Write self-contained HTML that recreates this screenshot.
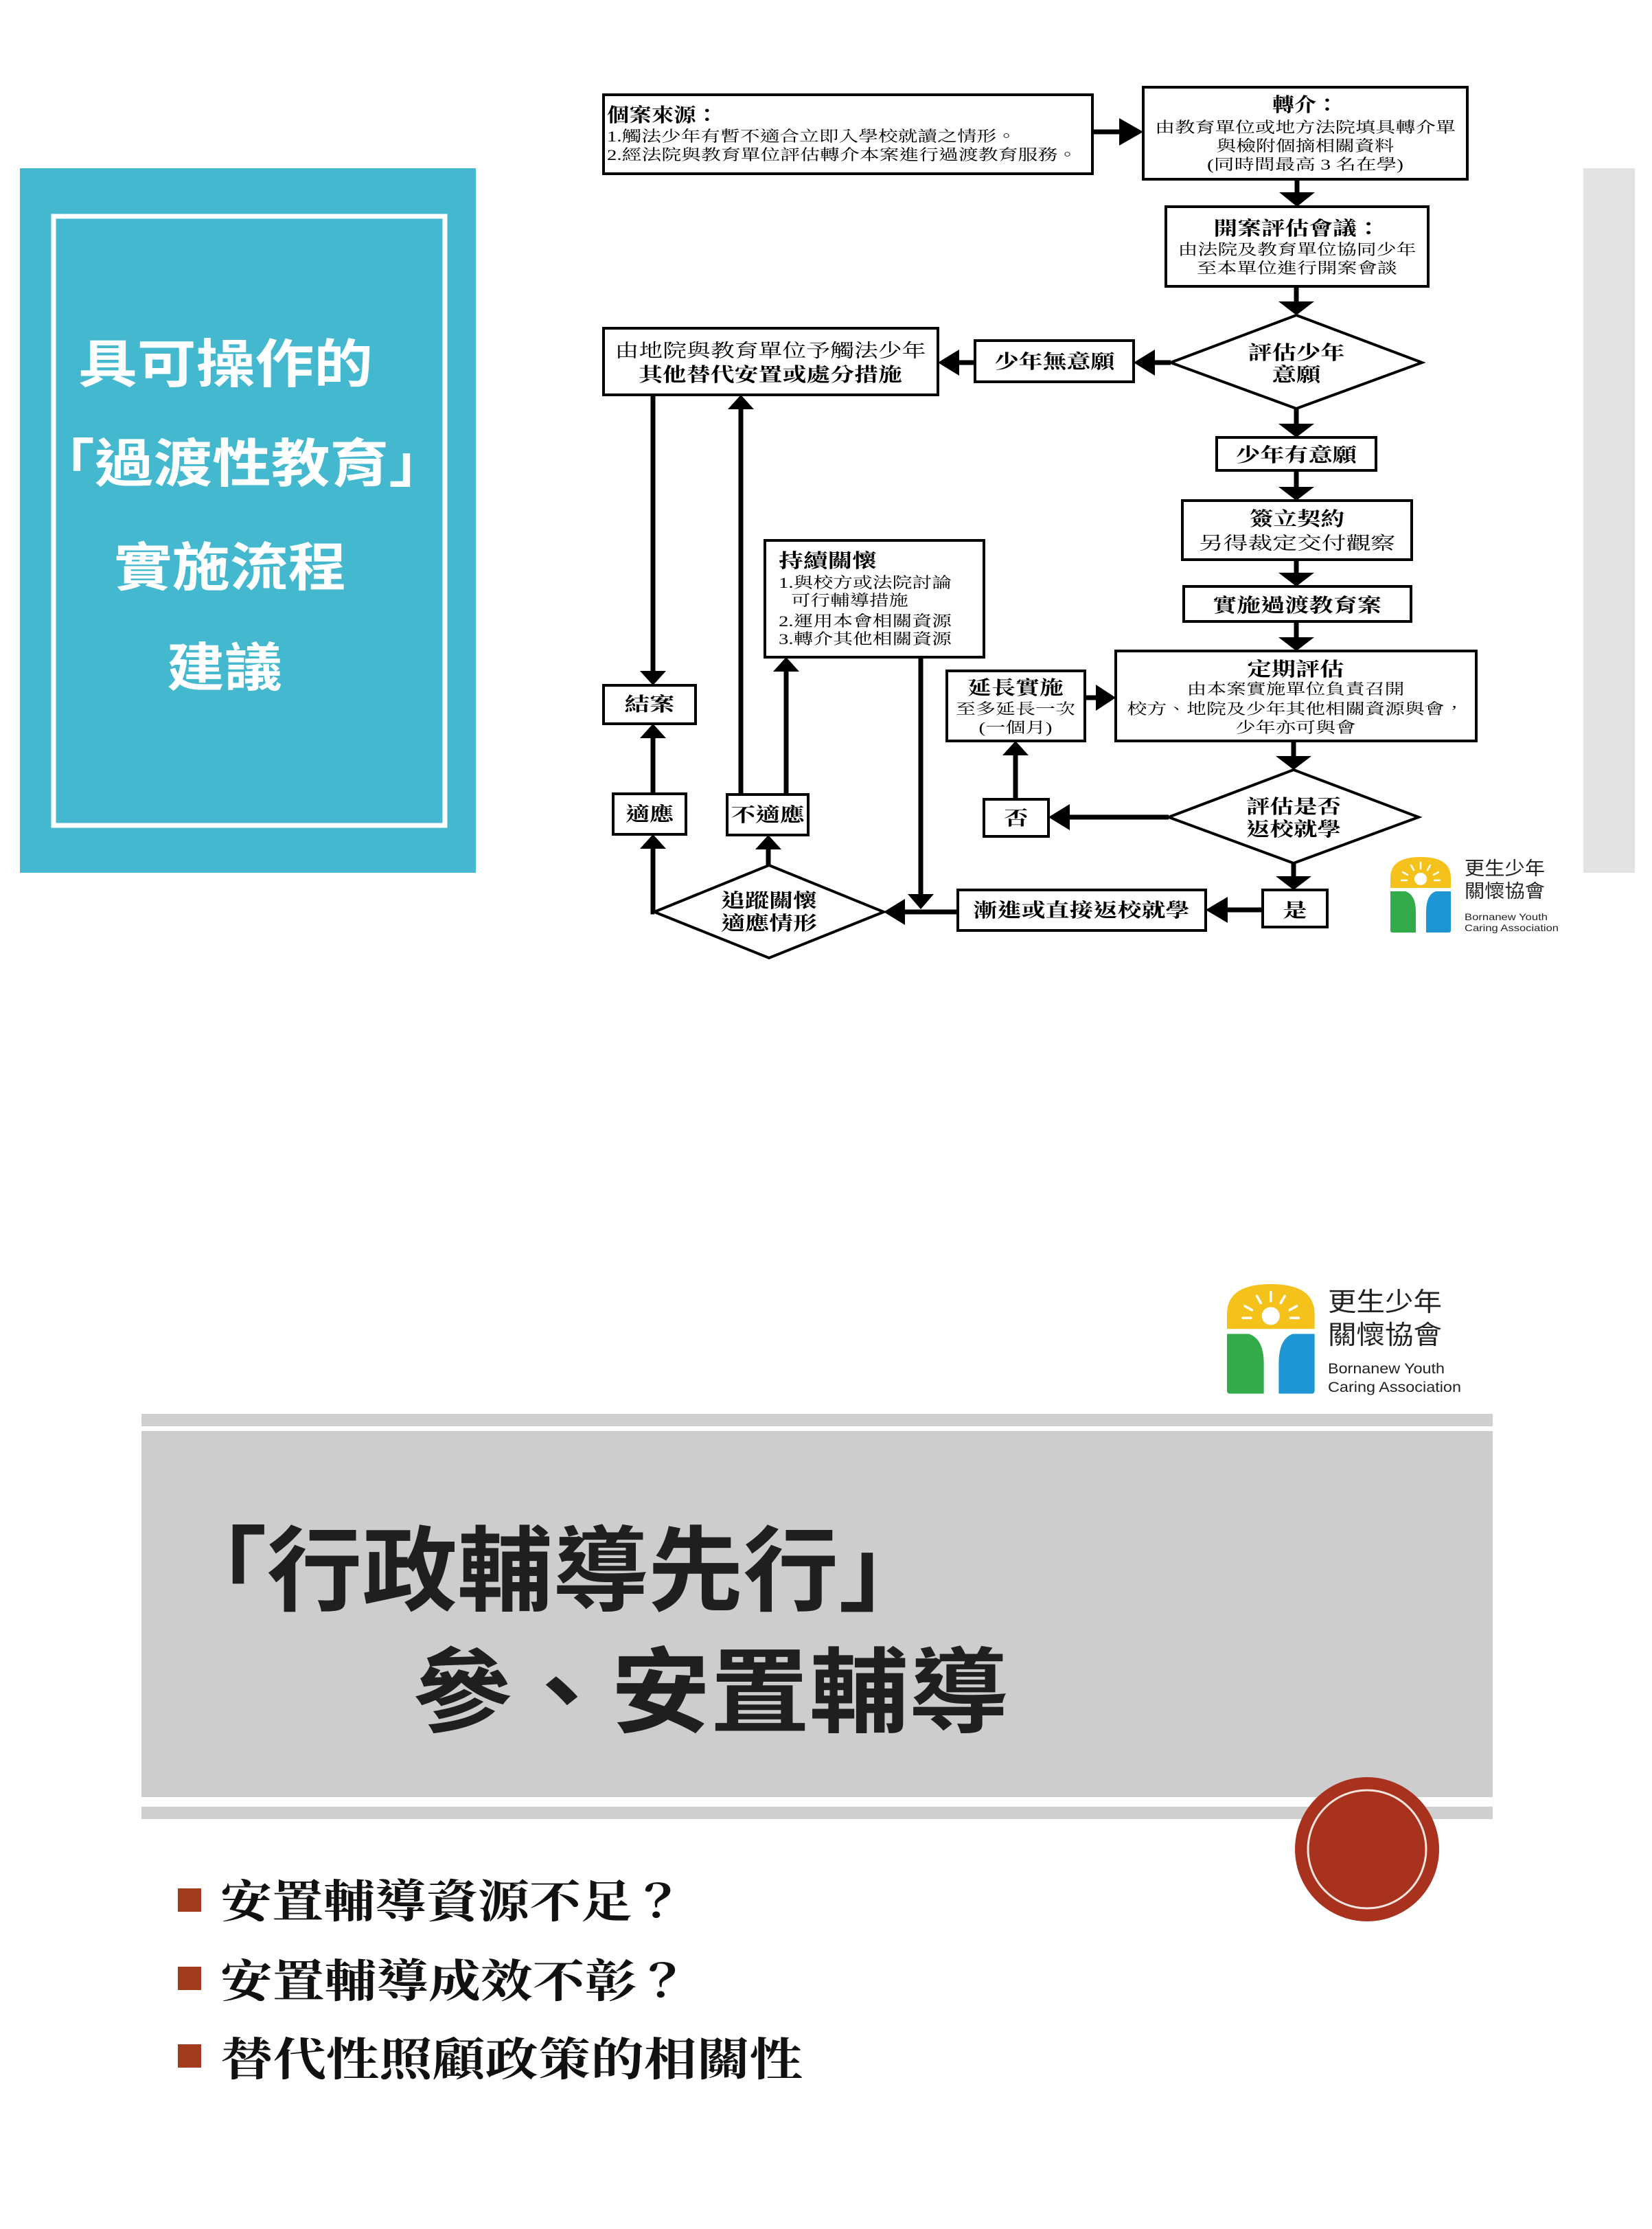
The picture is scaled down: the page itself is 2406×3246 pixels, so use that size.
<!DOCTYPE html>
<html><head><meta charset="utf-8"><style>
html,body{margin:0;padding:0;background:#fff;}
svg{display:block;}
.fc{font-family:"Liberation Serif","Noto Serif CJK TC",serif;fill:#000;}
.b{font-weight:bold;}
</style></head><body>
<svg width="2406" height="3246" viewBox="0 0 2406 3246" xmlns="http://www.w3.org/2000/svg">
<defs>
<g id="logo">
  <path d="M0,45 V30 Q0,0 44,0 Q88,0 88,30 V45 Z" fill="#f4c21a"/>
  <circle cx="44" cy="32" r="9" fill="#fff"/>
  <g stroke="#fff" stroke-width="2.5" stroke-linecap="round">
    <line x1="44" y1="8" x2="44" y2="17"/><line x1="30" y1="12" x2="34" y2="19"/><line x1="58" y1="12" x2="54" y2="19"/>
    <line x1="18" y1="22" x2="25" y2="26"/><line x1="70" y1="22" x2="63" y2="26"/><line x1="16" y1="34" x2="24" y2="34"/><line x1="72" y1="34" x2="64" y2="34"/>
  </g>
  <path d="M0,50 L22,50 Q37,55 37,80 L37,110 L3,110 Q0,110 0,107 Z" fill="#33ab4a"/>
  <path d="M88,50 L66,50 Q52,55 52,80 L52,110 L85,110 Q88,110 88,107 Z" fill="#1d96d3"/>
</g>
</defs>

<!-- Left teal panel -->
<rect x="29" y="245" width="664" height="1026" fill="#44b8cf"/>
<rect x="78" y="315" width="570" height="887" fill="none" stroke="#fff" stroke-width="7"/>
<g font-family="'Liberation Sans','Noto Sans CJK TC',sans-serif" fill="#fff" font-size="76" font-weight="bold">
<text x="114" y="557" textLength="429" lengthAdjust="spacingAndGlyphs">具可操作的</text>
<text x="52" y="702" textLength="600" lengthAdjust="spacingAndGlyphs">「過渡性教育」</text>
<text x="166" y="853" textLength="338" lengthAdjust="spacingAndGlyphs">實施流程</text>
<text x="243" y="999" textLength="168" lengthAdjust="spacingAndGlyphs">建議</text>
</g>
<rect x="2306" y="245" width="75" height="1026" fill="#e3e3e3"/>

<!-- Flowchart boxes -->
<g fill="#fff" stroke="#000" stroke-width="4">
<rect x="879" y="138" width="712" height="115"/>
<rect x="1665" y="127" width="472" height="134"/>
<rect x="1698" y="301" width="382" height="116"/>
<polygon points="1888,459 2071,528 1888,595 1705,528"/>
<rect x="1420" y="496" width="231" height="60"/>
<rect x="879" y="478" width="487" height="97"/>
<rect x="1772" y="637" width="232" height="48"/>
<rect x="1722" y="729" width="334" height="86"/>
<rect x="1724" y="854" width="331" height="51"/>
<rect x="1625" y="948" width="525" height="131"/>
<rect x="1379" y="977" width="201" height="102"/>
<rect x="1114" y="787" width="319" height="170"/>
<rect x="879" y="998" width="134" height="56"/>
<rect x="893" y="1156" width="106" height="59"/>
<rect x="1059" y="1157" width="118" height="59"/>
<rect x="1433" y="1164" width="94" height="54"/>
<polygon points="1884,1121 2066,1190 1884,1257 1702,1190"/>
<rect x="1839" y="1296" width="94" height="54"/>
<rect x="1395" y="1296" width="361" height="59"/>
<polygon points="1120,1260 1287,1328 1120,1395 953,1328"/>
</g>

<g stroke="#000" stroke-width="7" fill="none">
<line x1="1591" y1="192" x2="1632" y2="192"/>
<line x1="1889" y1="261" x2="1889" y2="282"/>
<line x1="1888" y1="417" x2="1888" y2="440"/>
<line x1="1705" y1="528" x2="1680" y2="528"/>
<line x1="1420" y1="528" x2="1395" y2="528"/>
<line x1="1888" y1="595" x2="1888" y2="618"/>
<line x1="1888" y1="685" x2="1888" y2="710"/>
<line x1="1888" y1="815" x2="1888" y2="835"/>
<line x1="1888" y1="905" x2="1888" y2="929"/>
<line x1="1884" y1="1079" x2="1884" y2="1102"/>
<line x1="1580" y1="1016" x2="1598" y2="1016"/>
<line x1="1702" y1="1190" x2="1556" y2="1190"/>
<line x1="1479" y1="1164" x2="1479" y2="1099"/>
<line x1="1884" y1="1257" x2="1884" y2="1277"/>
<line x1="1839" y1="1325" x2="1786" y2="1325"/>
<line x1="1395" y1="1328" x2="1316" y2="1328"/>
<line x1="1341" y1="957" x2="1341" y2="1303"/>
<line x1="1119" y1="1260" x2="1119" y2="1236"/>
<polyline points="953,1328 951,1328 951,1235"/>
<line x1="951" y1="1156" x2="951" y2="1074"/>
<line x1="951" y1="575" x2="951" y2="978"/>
<line x1="1079" y1="1157" x2="1079" y2="595"/>
<line x1="1145" y1="1157" x2="1145" y2="977"/>
</g>
<g fill="#000">
<polygon points="1630,172 1665,192 1630,212"/>
<polygon points="1863,280 1915,280 1889,301"/>
<polygon points="1862,439 1914,439 1888,459"/>
<polygon points="1682,509 1651,528 1682,547"/>
<polygon points="1397,509 1366,528 1397,547"/>
<polygon points="1862,617 1914,617 1888,637"/>
<polygon points="1862,709 1914,709 1888,729"/>
<polygon points="1862,834 1914,834 1888,854"/>
<polygon points="1862,928 1914,928 1888,948"/>
<polygon points="1858,1101 1910,1101 1884,1121"/>
<polygon points="1596,997 1625,1016 1596,1035"/>
<polygon points="1558,1171 1527,1190 1558,1209"/>
<polygon points="1460,1100 1479,1079 1498,1100"/>
<polygon points="1858,1276 1910,1276 1884,1296"/>
<polygon points="1788,1306 1756,1325 1788,1344"/>
<polygon points="1318,1309 1287,1328 1318,1347"/>
<polygon points="1322,1302 1360,1302 1341,1324"/>
<polygon points="1100,1237 1138,1237 1119,1216"/>
<polygon points="932,1236 970,1236 951,1215"/>
<polygon points="932,1075 970,1075 951,1054"/>
<polygon points="932,977 970,977 951,998"/>
<polygon points="1060,596 1098,596 1079,575"/>
<polygon points="1126,978 1164,978 1145,957"/>
</g>

<g class="fc" font-size="22">
<text class="b" x="884" y="177" font-size="28" textLength="162" lengthAdjust="spacingAndGlyphs">個案來源：</text>
<text x="884" y="206" textLength="596" lengthAdjust="spacingAndGlyphs">1.觸法少年有暫不適合立即入學校就讀之情形。</text>
<text x="884" y="233" textLength="685" lengthAdjust="spacingAndGlyphs">2.經法院與教育單位評估轉介本案進行過渡教育服務。</text>

<g text-anchor="middle">
<text class="b" x="1901" y="162" font-size="28" textLength="96" lengthAdjust="spacingAndGlyphs">轉介：</text>
<text x="1901" y="193" textLength="438" lengthAdjust="spacingAndGlyphs">由教育單位或地方法院填具轉介單</text>
<text x="1901" y="220" textLength="259" lengthAdjust="spacingAndGlyphs">與檢附個摘相關資料</text>
<text x="1901" y="247" textLength="286" lengthAdjust="spacingAndGlyphs">(同時間最高 3 名在學)</text>

<text class="b" x="1889" y="342" font-size="28" textLength="243" lengthAdjust="spacingAndGlyphs">開案評估會議：</text>
<text x="1889" y="371" textLength="347" lengthAdjust="spacingAndGlyphs">由法院及教育單位協同少年</text>
<text x="1889" y="398" textLength="292" lengthAdjust="spacingAndGlyphs">至本單位進行開案會談</text>

<text class="b" x="1888" y="523" font-size="28" textLength="141" lengthAdjust="spacingAndGlyphs">評估少年</text>
<text class="b" x="1888" y="555" font-size="28" textLength="71" lengthAdjust="spacingAndGlyphs">意願</text>

<text class="b" x="1536" y="536" font-size="28" textLength="175" lengthAdjust="spacingAndGlyphs">少年無意願</text>

<text x="1122" y="520" font-size="27" textLength="453" lengthAdjust="spacingAndGlyphs">由地院與教育單位予觸法少年</text>
<text class="b" x="1122" y="555" font-size="28" textLength="384" lengthAdjust="spacingAndGlyphs">其他替代安置或處分措施</text>

<text class="b" x="1888" y="672" font-size="28" textLength="176" lengthAdjust="spacingAndGlyphs">少年有意願</text>

<text class="b" x="1889" y="765" font-size="28" textLength="138" lengthAdjust="spacingAndGlyphs">簽立契約</text>
<text x="1889" y="800" font-size="26" textLength="286" lengthAdjust="spacingAndGlyphs">另得裁定交付觀察</text>

<text class="b" x="1889" y="891" font-size="28" textLength="246" lengthAdjust="spacingAndGlyphs">實施過渡教育案</text>

<text class="b" x="1887" y="984" font-size="28" textLength="141" lengthAdjust="spacingAndGlyphs">定期評估</text>
<text x="1887" y="1011" textLength="317" lengthAdjust="spacingAndGlyphs">由本案實施單位負責召開</text>
<text x="1887" y="1040" textLength="491" lengthAdjust="spacingAndGlyphs">校方、地院及少年其他相關資源與會，</text>
<text x="1887" y="1067" textLength="175" lengthAdjust="spacingAndGlyphs">少年亦可與會</text>

<text class="b" x="1479" y="1011" font-size="28" textLength="140" lengthAdjust="spacingAndGlyphs">延長實施</text>
<text x="1479" y="1040" textLength="174" lengthAdjust="spacingAndGlyphs">至多延長一次</text>
<text x="1479" y="1067" textLength="107" lengthAdjust="spacingAndGlyphs">(一個月)</text>

<text class="b" x="946" y="1035" font-size="28" textLength="73" lengthAdjust="spacingAndGlyphs">結案</text>
<text class="b" x="946" y="1195" font-size="28" textLength="70" lengthAdjust="spacingAndGlyphs">適應</text>
<text class="b" x="1118" y="1196" font-size="28" textLength="107" lengthAdjust="spacingAndGlyphs">不適應</text>
<text class="b" x="1480" y="1201" font-size="28" textLength="35" lengthAdjust="spacingAndGlyphs">否</text>

<text class="b" x="1884" y="1184" font-size="28" textLength="138" lengthAdjust="spacingAndGlyphs">評估是否</text>
<text class="b" x="1884" y="1217" font-size="28" textLength="138" lengthAdjust="spacingAndGlyphs">返校就學</text>

<text class="b" x="1886" y="1335" font-size="28" textLength="35" lengthAdjust="spacingAndGlyphs">是</text>
<text class="b" x="1575" y="1335" font-size="28" textLength="315" lengthAdjust="spacingAndGlyphs">漸進或直接返校就學</text>

<text class="b" x="1120" y="1321" font-size="28" textLength="140" lengthAdjust="spacingAndGlyphs">追蹤關懷</text>
<text class="b" x="1120" y="1354" font-size="28" textLength="140" lengthAdjust="spacingAndGlyphs">適應情形</text>
</g>

<text class="b" x="1134" y="826" font-size="28" textLength="143" lengthAdjust="spacingAndGlyphs">持續關懷</text>
<text x="1134" y="856" textLength="252" lengthAdjust="spacingAndGlyphs">1.與校方或法院討論</text>
<text x="1152" y="882" textLength="171" lengthAdjust="spacingAndGlyphs">可行輔導措施</text>
<text x="1134" y="912" textLength="252" lengthAdjust="spacingAndGlyphs">2.運用本會相關資源</text>
<text x="1134" y="938" textLength="252" lengthAdjust="spacingAndGlyphs">3.轉介其他相關資源</text>
</g>

<use href="#logo" x="2025" y="1248"/>
<g font-family="'Liberation Sans','Noto Sans CJK TC',sans-serif" fill="#222">
<text x="2133" y="1274" font-size="27" textLength="117" lengthAdjust="spacingAndGlyphs">更生少年</text>
<text x="2133" y="1307" font-size="27" textLength="117" lengthAdjust="spacingAndGlyphs">關懷協會</text>
<text x="2133" y="1340" font-size="14" textLength="121" lengthAdjust="spacingAndGlyphs">Bornanew Youth</text>
<text x="2133" y="1356" font-size="14" textLength="137" lengthAdjust="spacingAndGlyphs">Caring Association</text>
</g>

<g transform="translate(1787,1870) scale(1.45)"><use href="#logo"/></g>
<g font-family="'Liberation Sans','Noto Sans CJK TC',sans-serif" fill="#222">
<text x="1934" y="1909" font-size="38" textLength="166" lengthAdjust="spacingAndGlyphs">更生少年</text>
<text x="1934" y="1957" font-size="38" textLength="166" lengthAdjust="spacingAndGlyphs">關懷協會</text>
<text x="1934" y="2000" font-size="21" textLength="170" lengthAdjust="spacingAndGlyphs">Bornanew Youth</text>
<text x="1934" y="2027" font-size="21" textLength="194" lengthAdjust="spacingAndGlyphs">Caring Association</text>
</g>

<rect x="206" y="2059" width="1968" height="18" fill="#cfcfcf"/>
<rect x="206" y="2084" width="1968" height="533" fill="#cdcdcd"/>
<rect x="206" y="2631" width="1968" height="18" fill="#cfcfcf"/>
<g font-family="'Liberation Sans','Noto Sans CJK TC',sans-serif" font-weight="bold" fill="#1f1f1f">
<text x="250" y="2335" font-size="135" textLength="1110" lengthAdjust="spacingAndGlyphs">「行政輔導先行」</text>
<text x="601" y="2512" font-size="135" textLength="867" lengthAdjust="spacingAndGlyphs">參、安置輔導</text>
</g>

<circle cx="1991" cy="2693" r="105" fill="#a8321e"/>
<circle cx="1991" cy="2693" r="86" fill="none" stroke="#f3e4de" stroke-width="3"/>

<g fill="#a23a1e">
<rect x="259" y="2750" width="34" height="34"/>
<rect x="259" y="2864" width="34" height="34"/>
<rect x="259" y="2977" width="34" height="34"/>
</g>
<g font-family="'Liberation Serif','Noto Serif CJK TC',serif" fill="#111" font-size="66" font-weight="bold">
<text x="321" y="2792" textLength="675" lengthAdjust="spacingAndGlyphs">安置輔導資源不足？</text>
<text x="321" y="2908" textLength="682" lengthAdjust="spacingAndGlyphs">安置輔導成效不彰？</text>
<text x="321" y="3022" textLength="848" lengthAdjust="spacingAndGlyphs">替代性照顧政策的相關性</text>
</g>
</svg>
</body></html>
